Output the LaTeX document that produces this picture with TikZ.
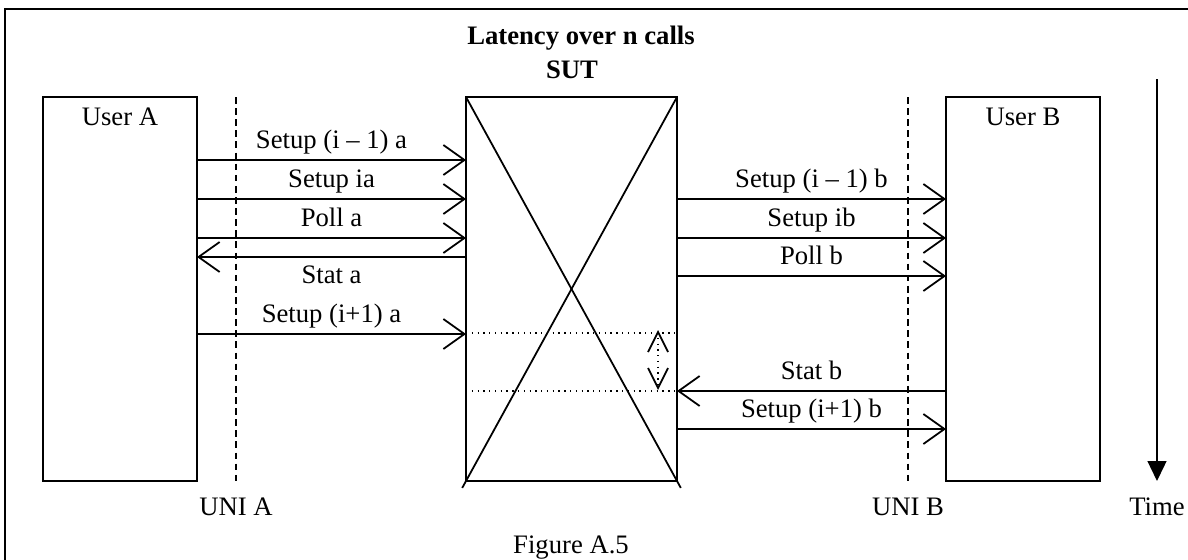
\documentclass[tikz,border=0pt]{standalone}
\usepackage{fontspec}
\setmainfont{Liberation Serif}
\usetikzlibrary{arrows.meta, positioning, calc}
\tikzset{
    box/.style={rectangle, draw, minimum width=69.3pt, minimum height=172.8pt, inner sep=0pt, outer sep=0pt},
    msg/.style={-{Straight Barb[length=9.5pt, width=13.5pt]}},
    lbl/.style={anchor=base, font=\fontsize{12}{14}\selectfont},
    uniline/.style={dash pattern=on 3pt off 2pt},
    gap/.style={dotted, line width=0.6pt}
}

\begin{document}
\begin{tikzpicture}[x=0.45pt, y=-0.45pt, line width=0.8pt, node distance=121.05pt]
    \clip (0,0) rectangle (1188,559);
    % frame
    \draw (5,9) rectangle (1210,580);

    \node[lbl, font=\fontsize{12}{14}\selectfont\bfseries] (title) at (581,44) {Latency over n calls};
    \node[lbl, font=\fontsize{12}{14}\selectfont\bfseries] (suttitle) at (572,78) {SUT};

    \node[box, anchor=north west, label={[lbl, yshift=-12.6pt]north:User A}] (userA) at (43,97) {};
    \node[box, minimum width=94.95pt, right=of userA] (sut) {};
    \node[box, right=of sut, label={[lbl, yshift=-12.6pt]north:User B}] (userB) {};

    % cross in SUT
    \draw (sut.north west) -- ($(sut.north west)!1.018!(sut.south east)$);
    \draw (sut.north east) -- ($(sut.north east)!1.018!(sut.south west)$);

    % UNI lines
    \node[lbl] (uniA) at (236,515) {UNI A};
    \node[lbl] (uniB) at (908,515) {UNI B};
    \draw[uniline] (userA.north east -| uniA) -- (userA.south east -| uniA);
    \draw[uniline] (userB.north west -| uniB) -- (userB.south west -| uniB);

    % side A
    \draw[msg] (userA.east |- 0,160) -- node[lbl, yshift=5pt] {Setup (i -- 1) a} (sut.west |- 0,160);
    \draw[msg] (userA.east |- 0,199) -- node[lbl, yshift=5pt] {Setup ia} (sut.west |- 0,199);
    \draw[msg] (userA.east |- 0,238) -- node[lbl, yshift=5pt] {Poll a} (sut.west |- 0,238);
    \draw[msg] (sut.west |- 0,257) -- node[lbl, yshift=-11.7pt] {Stat a} (userA.east |- 0,257);
    \draw[msg] (userA.east |- 0,334) -- node[lbl, yshift=5pt] {Setup (i+1) a} (sut.west |- 0,334);

    % side B
    \draw[msg] (sut.east |- 0,199) -- node[lbl, yshift=5.2pt] {Setup (i -- 1) b} (userB.west |- 0,199);
    \draw[msg] (sut.east |- 0,238) -- node[lbl, yshift=5.2pt] {Setup ib} (userB.west |- 0,238);
    \draw[msg] (sut.east |- 0,276) -- node[lbl, yshift=5.2pt] {Poll b} (userB.west |- 0,276);
    \draw[msg] (userB.west |- 0,391) -- node[lbl, yshift=5.2pt] {Stat b} (sut.east |- 0,391);
    \draw[msg] (sut.east |- 0,429) -- node[lbl, yshift=5.2pt] {Setup (i+1) b} (userB.west |- 0,429);

    % latency marks
    \draw[gap] (sut.west |- 0,333) -- (sut.east |- 0,333);
    \draw[gap] (sut.west |- 0,391) -- (sut.east |- 0,391);
    \coordinate (d1) at ($(sut.east |- 0,332)+(-19,0)$);
    \coordinate (d2) at ($(sut.east |- 0,388)+(-19,0)$);
    \draw[gap] (d1) -- (d2);
    \draw ($(d1)+(-10,20)$) -- (d1) -- ($(d1)+(10,20)$);
    \draw ($(d2)+(-10,-20)$) -- (d2) -- ($(d2)+(10,-20)$);

    % time axis
    \node[lbl] (time) at (1157,515) {Time};
    \draw[-{Triangle[length=9pt, width=8.5pt]}] (time |- 0,79) -- (time |- userB.south);

    \node[lbl] (caption) at (571,553) {Figure A.5};
\end{tikzpicture}
\end{document}
